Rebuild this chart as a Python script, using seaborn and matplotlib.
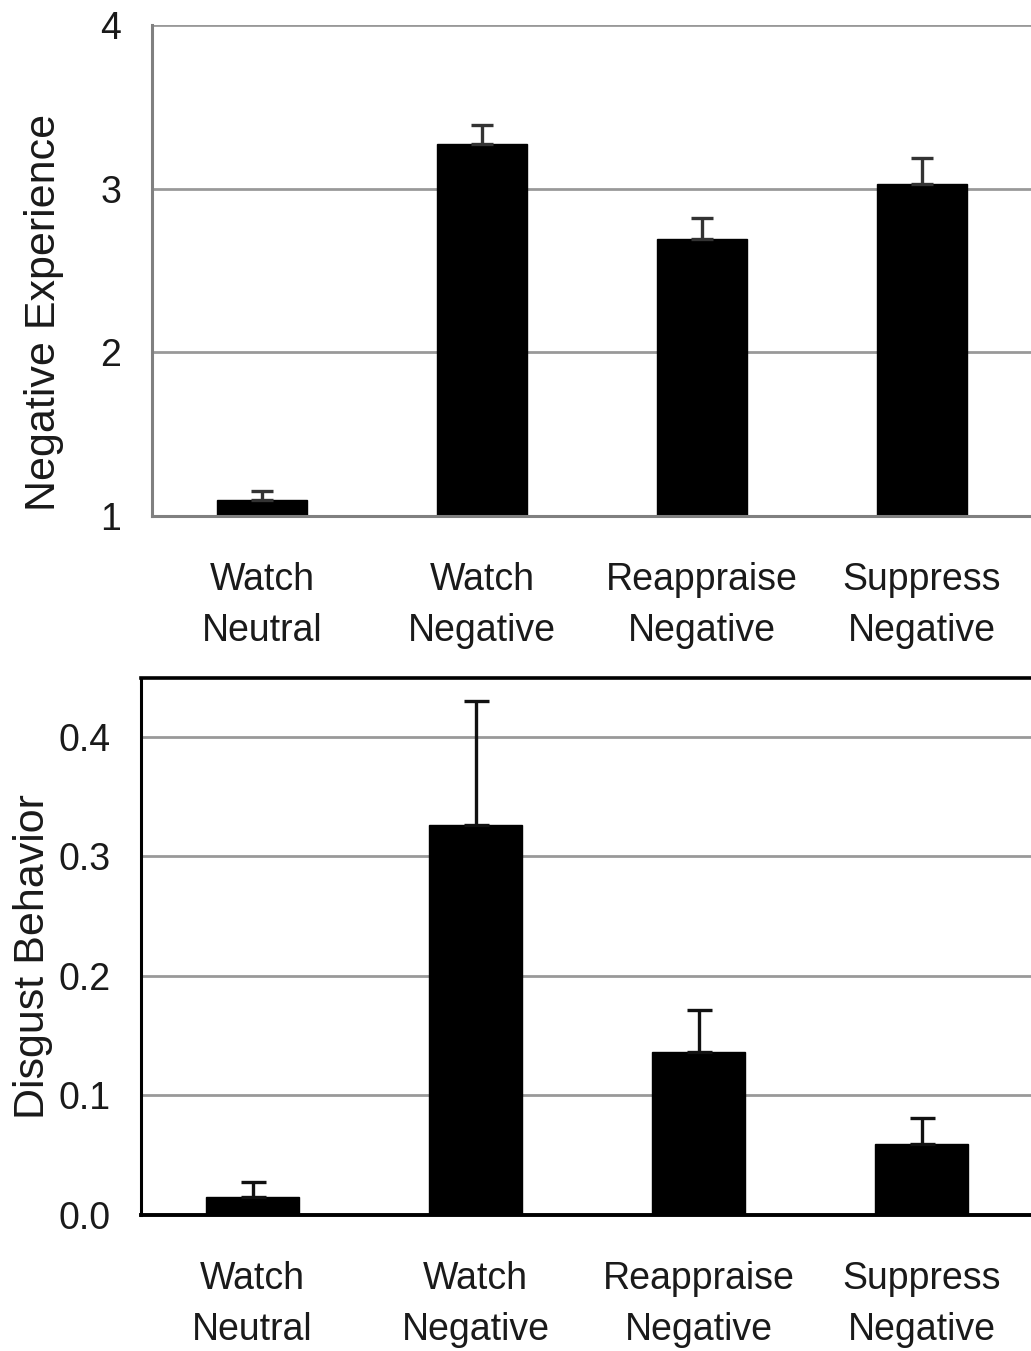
import matplotlib
matplotlib.use("Agg")
import matplotlib.pyplot as plt
import seaborn as sns
import pandas as pd
import numpy as np

categories = ["Watch\nNeutral", "Watch\nNegative", "Reappraise\nNegative", "Suppress\nNegative"]
experience_means = [1.10, 3.27, 2.69, 3.03]
experience_err = [0.05, 0.12, 0.13, 0.16]
disgust_means = [0.015, 0.326, 0.136, 0.059]
disgust_err = [0.013, 0.104, 0.035, 0.022]
experience_ticks = [1, 2, 3, 4]
disgust_ticks = [0.0, 0.1, 0.2, 0.3, 0.4]

sns.set_style("white")
plt.rcParams["font.family"] = ["Liberation Sans", "DejaVu Sans"]

fig = plt.figure(figsize=(10.31, 13.51), dpi=100)
ax1 = fig.add_axes([152/1031, 1-516/1351, 1-152/1031 + 0.001, (516-25)/1351])
ax2 = fig.add_axes([141/1031, 1-1215/1351, 1-141/1031 + 0.002, (1215-678)/1351])

df1 = pd.DataFrame({"cond": categories, "val": experience_means})
df2 = pd.DataFrame({"cond": categories, "val": disgust_means})

sns.barplot(data=df1, x="cond", y="val", color="black", width=0.41, ax=ax1,
            edgecolor="black", saturation=1, errorbar=None)
sns.barplot(data=df2, x="cond", y="val", color="black", width=0.42, ax=ax2,
            edgecolor="black", saturation=1, errorbar=None)

x = np.arange(len(categories))
ax1.errorbar(x, experience_means, yerr=[np.zeros(4), experience_err], fmt="none",
             ecolor="#333333", elinewidth=2.4, capsize=8, capthick=2.4, zorder=3)
ax2.errorbar(x, disgust_means, yerr=[np.zeros(4), disgust_err], fmt="none",
             ecolor="#111111", elinewidth=2.4, capsize=9, capthick=2.4, zorder=3)

tick_fs = 27
for ax, ticks, lim, spine_col in [(ax1, experience_ticks, (1, 4), "#808080"),
                                  (ax2, disgust_ticks, (0, 0.449), "black")]:
    ax.set_xlim(-0.5, 3.5)
    ax.set_ylim(*lim)
    ax.set_yticks(ticks)
    ax.yaxis.grid(True, color="#999999", linewidth=2)
    ax.set_axisbelow(True)
    ax.set_xlabel("")
    ax.set_xticks(x)
    ax.set_xticklabels(categories, fontsize=tick_fs, color="#1a1a1a", linespacing=1.55)
    ax.tick_params(axis="x", which="major", length=0, pad=33)
    ax.set_xticks([0.5, 1.5, 2.5], minor=True)
    ax.tick_params(axis="x", which="minor", length=11, width=2, color=spine_col, direction="out")
    ax.tick_params(axis="y", length=11, width=2, color=spine_col, direction="out",
                   labelsize=tick_fs, labelcolor="#1a1a1a", pad=11)
    for s in ["left", "bottom"]:
        ax.spines[s].set_color(spine_col)
        ax.spines[s].set_linewidth(2.2)

ax1.set_yticklabels(["1", "2", "3", "4"])
ax1.spines["top"].set_visible(False)
ax1.spines["right"].set_visible(False)
ax2.set_yticklabels(["0.0", "0.1", "0.2", "0.3", "0.4"])
ax2.spines["top"].set_visible(True)
ax2.spines["top"].set_color("black")
ax2.spines["top"].set_linewidth(2.6)
ax2.spines["bottom"].set_linewidth(2.8)
ax2.spines["right"].set_visible(False)

ax1.set_ylabel("Negative Experience", fontsize=31, color="#1a1a1a")
ax2.set_ylabel("Disgust Behavior", fontsize=31, color="#1a1a1a")
ax1.yaxis.set_label_coords(-88/879, 0.415)
ax2.yaxis.set_label_coords(-88/890, 0.482)

fig.savefig("out.png", dpi=100, facecolor="white")
